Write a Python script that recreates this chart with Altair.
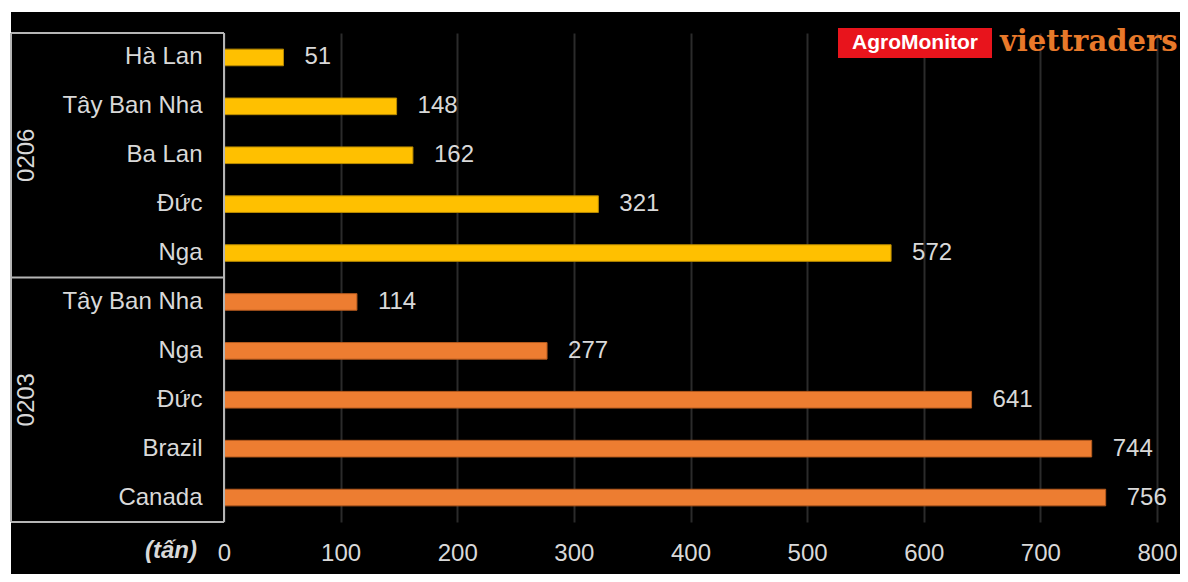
import altair as alt
import pandas as pd

# ---- data ----
groups = ["0206", "0206", "0206", "0206", "0206", "0203", "0203", "0203", "0203", "0203"]
countries = ["Hà Lan", "Tây Ban Nha", "Ba Lan", "Đức", "Nga",
             "Tây Ban Nha", "Nga", "Đức", "Brazil", "Canada"]
values = [51, 148, 162, 321, 572, 114, 277, 641, 744, 756]
group_names = ["0206", "0203"]
group_colors = ["#FFC000", "#ED7D31"]
group_strokes = ["#B88A00", "#B45A1E"]
x_ticks = [0, 100, 200, 300, 400, 500, 600, 700, 800]
unit_label = ["(tấn)"]
logo_left = ["AgroMonitor"]
logo_right = ["viettraders"]

keys = [f"{g}|{c}" for g, c in zip(groups, countries)]
df = pd.DataFrame({"key": keys, "group": groups, "country": countries, "value": values})
mid_keys = [keys[2], keys[7]]
grp_df = pd.DataFrame({"key": mid_keys, "label": group_names})

W, H = 933, 489
PL, PT, PR, PB = 216, 25, 23, 52
FONT = "Liberation Sans"
LABEL = "#d9d9d9"
FS = 24

y_scale = alt.Scale(paddingInner=0.66, paddingOuter=0.33)
y_enc = alt.Y(
    "key:N", sort=keys, scale=y_scale,
    axis=alt.Axis(title=None, labelExpr="split(datum.value, '|')[1]", domain=False,
                  ticks=False, labelPadding=22, labelFontSize=FS, labelColor=LABEL,
                  labelFont=FONT, grid=False),
)
x_enc = alt.X(
    "value:Q", scale=alt.Scale(domain=[0, 800], nice=False),
    axis=alt.Axis(title=None, values=x_ticks, grid=True, gridColor="#2b2b2b", gridWidth=2,
                  domain=False, ticks=False, labelPadding=19, labelFontSize=FS,
                  labelColor=LABEL, labelFont=FONT, labelFlush=False),
)

one = pd.DataFrame({"a": [0]})

# thin white page strips at top and left (the reference's black panel starts a little inset)
strip_top = alt.Chart(one).mark_rect(color="#ffffff").encode(
    x=alt.value(-PL), x2=alt.value(W + PR), y=alt.value(-PT), y2=alt.value(-PT + 4))
strip_left = alt.Chart(one).mark_rect(color="#ffffff").encode(
    x=alt.value(-PL), x2=alt.value(-PL + 3), y=alt.value(-PT), y2=alt.value(H + PB))

base = alt.Chart(df)
bars = base.mark_bar(strokeWidth=1).encode(
    x=x_enc, y=y_enc,
    color=alt.Color("group:N", scale=alt.Scale(domain=group_names, range=group_colors), legend=None),
    stroke=alt.Stroke("group:N", scale=alt.Scale(domain=group_names, range=group_strokes), legend=None),
)
vals = base.mark_text(align="left", baseline="middle", dx=21, fontSize=FS, color=LABEL, font=FONT).encode(
    x="value:Q", y=alt.Y("key:N", sort=keys), text="value:Q"
)
grp = alt.Chart(grp_df).mark_text(angle=270, baseline="middle", align="center", fontSize=FS,
                                   color=LABEL, font=FONT).encode(
    x=alt.value(-197), y=alt.Y("key:N", sort=keys), text="label:N"
)

BOX = "#b5b5b5"


def hrule(yv):
    return alt.Chart(one).mark_rule(color=BOX, strokeWidth=2).encode(
        x=alt.value(-213), x2=alt.value(0), y=alt.value(yv))


def vrule(xv):
    return alt.Chart(one).mark_rule(color=BOX, strokeWidth=2).encode(
        x=alt.value(xv), y=alt.value(0), y2=alt.value(H))


box = hrule(0) + hrule(H / 2) + hrule(H) + vrule(-213) + vrule(0)

unit = alt.Chart(pd.DataFrame({"t": unit_label})).mark_text(
    align="right", baseline="middle", fontSize=FS, fontStyle="italic", fontWeight="bold",
    color=LABEL, font=FONT).encode(x=alt.value(-27), y=alt.value(H + 29), text="t:N")

logo_box = alt.Chart(one).mark_rect(color="#E8141C").encode(
    x=alt.value(614), x2=alt.value(768), y=alt.value(-5), y2=alt.value(25))
logo_t1 = alt.Chart(pd.DataFrame({"t": logo_left})).mark_text(
    align="center", baseline="middle", fontSize=21, fontWeight="bold", color="white",
    font=FONT).encode(x=alt.value(691), y=alt.value(10), text="t:N")
logo_t2 = alt.Chart(pd.DataFrame({"t": logo_right})).mark_text(
    align="left", baseline="middle", fontSize=29, fontWeight="bold", color="#E8792A",
    font="DejaVu Serif").encode(x=alt.value(776), y=alt.value(9), text="t:N")

chart = alt.layer(strip_top, strip_left, bars, vals, grp, box, unit,
                  logo_box, logo_t1, logo_t2).properties(
    width=W, height=H,
    padding={"left": PL, "top": PT, "right": PR, "bottom": PB},
    autosize=alt.AutoSizeParams(type="none"),
    background="#000000",
).configure_view(stroke=None)

chart.save("out.html", embed_options={"renderer": "svg", "actions": False})
